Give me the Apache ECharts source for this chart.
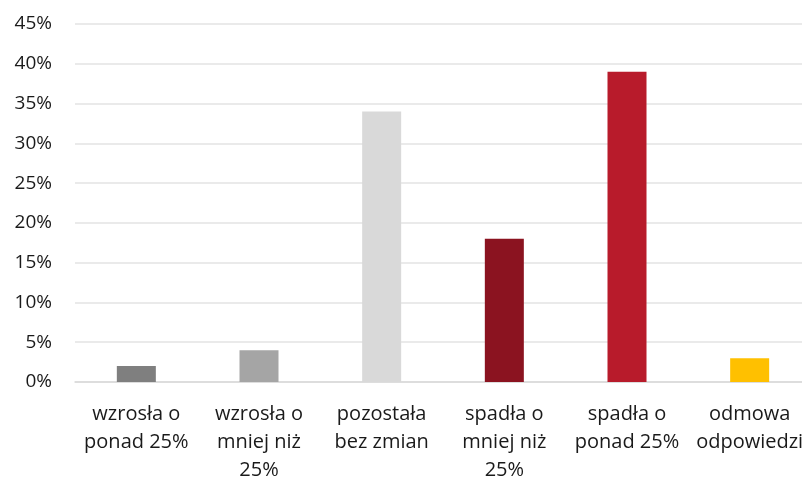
<!DOCTYPE html>
<html>
<head>
<meta charset="utf-8">
<script src="https://cdn.jsdelivr.net/npm/echarts@6/dist/echarts.min.js"></script>
<style>
  html, body { margin: 0; padding: 0; background: #fff; }
  #chart { width: 802px; height: 479px; }
</style>
</head>
<body>
<div id="chart"></div>
<script>
// kategorie i wartości (%)
const categories = [
  'wzrosła o\nponad 25%',
  'wzrosła o\nmniej niż\n25%',
  'pozostała\nbez zmian',
  'spadła o\nmniej niż\n25%',
  'spadła o\nponad 25%',
  'odmowa\nodpowiedzi'
]
const values = [2, 4, 34, 18, 39, 3]
const barColors = ['#7f7f7f', '#a5a5a5', '#d9d9d9', '#8b1320', '#b81b2b', '#ffc000']

const chart = echarts.init(document.getElementById('chart'))
chart.setOption({
  animation: false,
  textStyle: { fontFamily: 'Open Sans' },
  grid: { left: 75, top: 24, width: 736, height: 358, outerBoundsMode: 'none' },
  xAxis: {
    type: 'category',
    data: categories,
    axisTick: { show: false },
    axisLine: { lineStyle: { color: '#d9d9d9', width: 1.5 } },
    axisLabel: {
      interval: 0,
      margin: 18,
      fontSize: 20,
      lineHeight: 28,
      color: '#1a1a1a'
    }
  },
  yAxis: {
    type: 'value',
    min: 0,
    max: 45,
    interval: 5,
    axisLine: { show: false },
    axisTick: { show: false },
    splitLine: { lineStyle: { color: '#e3e3e3', width: 1.5 } },
    axisLabel: {
      margin: 23,
      fontSize: 19,
      color: '#1a1a1a',
      formatter: '{value}%'
    }
  },
  series: [{
    type: 'bar',
    barWidth: 39,
    data: values.map((v, i) => ({ value: v, itemStyle: { color: barColors[i] } }))
  }]
})
</script>
</body>
</html>
